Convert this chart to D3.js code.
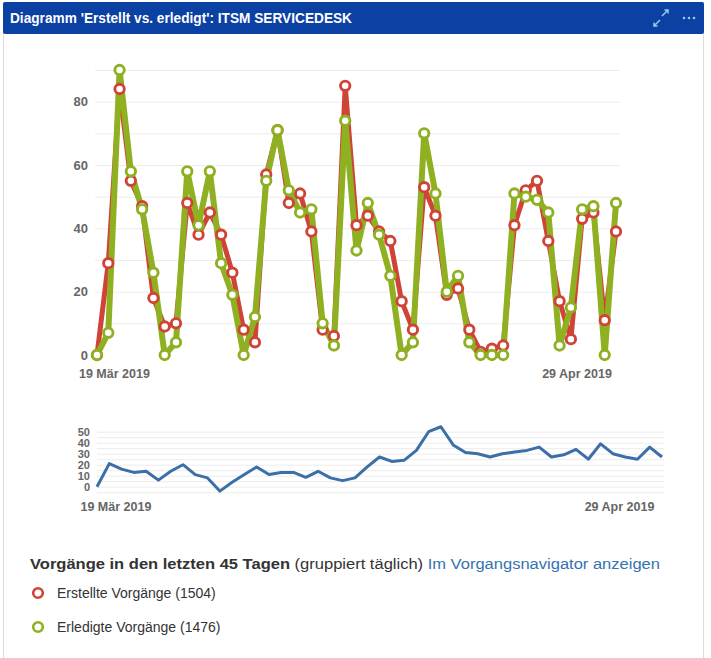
<!DOCTYPE html>
<html>
<head>
<meta charset="utf-8">
<script src="https://cdn.jsdelivr.net/npm/d3@7"></script>
<style>
  html, body { margin: 0; padding: 0; background: #fff; }
  svg { display: block; font-family: "Liberation Sans", Arial, sans-serif; }
</style>
</head>
<body>
<svg id="chart" width="711" height="658"></svg>
<script>
// first day shown, one point per day
const startDay = "2019-03-17";
const tickDays = ["2019-03-19", "2019-04-29"];
const yTicksMain = [0, 20, 40, 60, 80];
const yTicksNav = [0, 10, 20, 30, 40, 50];

// Erstellte Vorgänge per day
const created = [0, 29, 84, 55, 47, 18, 9, 10, 48, 38, 45, 38, 26, 8, 4, 57, 71, 48, 51, 39,
  8, 6, 85, 41, 44, 39, 36, 17, 8, 53, 44, 19, 21, 8, 1, 2, 3, 41, 52, 55, 36, 17, 5, 43, 45, 11, 39];
// Erledigte Vorgänge per day
const resolved = [0, 7, 90, 58, 46, 26, 0, 4, 58, 41, 58, 29, 19, 0, 12, 55, 71, 52, 45, 46,
  10, 3, 74, 33, 48, 38, 25, 0, 4, 70, 51, 20, 25, 4, 0, 0, 0, 51, 50, 49, 45, 3, 15, 46, 47, 0, 48];
// navigator (unresolved trend)
const trend = [0, 21, 16, 13, 14, 6, 14, 20, 11, 8, -4, 4, 11, 18, 11, 13, 13, 8.5, 14, 8,
  5.5, 8, 18, 27, 23, 24, 33, 50, 54.5, 38, 31, 30, 27, 30, 31.5, 33, 36, 27, 29, 34, 25, 39, 30, 27, 25, 36, 27];

const legendItems = [
  { label: "Erstellte Vorgänge (1504)", color: "#d04437" },
  { label: "Erledigte Vorgänge (1476)", color: "#8eb021" }
];

const parseDay = d3.timeParse("%Y-%m-%d");
const fmt = d3.timeFormat("%-d %b %Y");
const monthsDe = { Mar: "Mär", Apr: "Apr", May: "Mai" };
const fmtDe = d => fmt(d).replace(/[A-Z][a-z]{2}/, m => monthsDe[m] || m);

// points sit at noon, ticks at midnight
const days = created.map((_, i) => d3.timeHour.offset(d3.timeDay.offset(parseDay(startDay), i), 12));
const ticks = tickDays.map(parseDay);

const svg = d3.select("#chart");

// ---- panel + header
svg.append("rect").attr("x", 3.5).attr("y", 2.5).attr("width", 700).attr("height", 660)
  .attr("fill", "#fff").attr("stroke", "#dcdcdc");
svg.append("rect").attr("x", 3).attr("y", 2).attr("width", 701).attr("height", 32)
  .attr("rx", 2).attr("fill", "#0b41a3");
svg.append("text").attr("x", 10).attr("y", 23)
  .attr("fill", "#fff").attr("font-weight", "bold").attr("font-size", 14.5)
  .style("font-family", "'Liberation Sans Narrow', 'Liberation Sans', Arial")
  .attr("textLength", 342).attr("lengthAdjust", "spacingAndGlyphs")
  .text("Diagramm 'Erstellt vs. erledigt': ITSM SERVICEDESK");

// expand icon + menu dots
const icons = svg.append("g").attr("stroke", "#9fc3f0").attr("fill", "none").attr("stroke-width", 1.5);
icons.append("path").attr("d", "M662,16 L668,10 M664.5,10 L668,10 L668,13.5");
icons.append("path").attr("d", "M660,20 L654,26 M657.5,26 L654,26 L654,22.5");
svg.append("g").selectAll("circle").data([684, 689, 694]).join("circle")
  .attr("cx", d => d).attr("cy", 18).attr("r", 1.3).attr("fill", "#9fc3f0");

// ---- main chart
const x = d3.scaleTime().domain([days[0], days[days.length - 1]]).range([97, 616]);
const y = d3.scaleLinear().domain([0, 90]).range([355, 70]);

svg.append("g").selectAll("line").data(d3.range(10, 100, 10)).join("line")
  .attr("x1", 95).attr("x2", 620)
  .attr("y1", d => y(d) + 0.5).attr("y2", d => y(d) + 0.5)
  .attr("stroke", "#ececec");

const yAxis = svg.append("g").attr("transform", "translate(88,0)")
  .call(d3.axisLeft(y).tickValues(yTicksMain).tickSize(0).tickPadding(0));
yAxis.select(".domain").remove();
yAxis.selectAll("text").attr("fill", "#666").attr("font-size", 13).attr("font-weight", "bold");

const xAxis = svg.append("g").attr("transform", "translate(0,369)")
  .call(d3.axisBottom(x).tickValues(ticks).tickFormat(fmtDe).tickSize(0).tickPadding(0));
xAxis.select(".domain").remove();
xAxis.selectAll("text").attr("fill", "#666").attr("font-size", 12.5).attr("font-weight", "bold");

const line = d3.line().x((d, i) => x(days[i])).y(d => y(d)).curve(d3.curveLinear);

svg.append("path").datum(created).attr("d", line)
  .attr("fill", "none").attr("stroke", "#d04437").attr("stroke-width", 5).attr("stroke-linejoin", "round");
svg.append("path").datum(resolved).attr("d", line)
  .attr("fill", "none").attr("stroke", "#8eb021").attr("stroke-width", 6).attr("stroke-linejoin", "round");

[[created, "#d04437"], [resolved, "#8eb021"]].forEach(([vals, col]) => {
  svg.append("g").selectAll("circle").data(vals).join("circle")
    .attr("cx", (d, i) => x(days[i])).attr("cy", d => y(d)).attr("r", 4.7)
    .attr("fill", "#fff").attr("stroke", col).attr("stroke-width", 2.9);
});

// ---- navigator chart
const x2 = d3.scaleTime().domain([days[0], days[days.length - 1]]).range([97, 662]);
const y2 = d3.scaleLinear().domain([-5, 50]).range([492.2, 431.7]);

svg.append("g").selectAll("line").data(d3.range(-5, 55, 5)).join("line")
  .attr("x1", 97).attr("x2", 664)
  .attr("y1", d => y2(d) + 0.5).attr("y2", d => y2(d) + 0.5)
  .attr("stroke", "#ececec");

// labels are squeezed vertically like the original
const yAxis2 = svg.append("g").attr("transform", "translate(90,0)")
  .call(d3.axisLeft(y2).tickValues(yTicksNav).tickSize(0).tickPadding(0));
yAxis2.select(".domain").remove();
yAxis2.selectAll("text").attr("fill", "#666").attr("font-size", 11).attr("font-weight", "bold");

const xAxis2 = svg.append("g").attr("transform", "translate(0,502)")
  .call(d3.axisBottom(x2).tickValues(ticks).tickFormat(fmtDe).tickSize(0).tickPadding(0));
xAxis2.select(".domain").remove();
xAxis2.selectAll("text").attr("fill", "#666").attr("font-size", 12.5).attr("font-weight", "bold");

svg.append("path").datum(trend)
  .attr("d", d3.line().x((d, i) => x2(days[i])).y(d => y2(d)))
  .attr("fill", "none").attr("stroke", "#3c6ea8").attr("stroke-width", 3).attr("stroke-linejoin", "round");

// ---- legend
const head = svg.append("text").attr("x", 30).attr("y", 569).attr("font-size", 14).attr("fill", "#333")
  .attr("textLength", 630).attr("lengthAdjust", "spacingAndGlyphs");
head.append("tspan").attr("font-weight", "bold").text("Vorgänge in den letzten 45 Tagen");
head.append("tspan").text(" (gruppiert täglich) ");
head.append("tspan").attr("fill", "#3572b0").text("Im Vorgangsnavigator anzeigen");

const items = svg.append("g").selectAll("g").data(legendItems).join("g")
  .attr("transform", (d, i) => `translate(0,${593 + i * 34})`);
items.append("circle").attr("cx", 38).attr("cy", 0).attr("r", 4.8)
  .attr("fill", "#fff").attr("stroke", d => d.color).attr("stroke-width", 2.6);
items.append("text").attr("x", 57).attr("y", 5).attr("font-size", 14).attr("fill", "#333")
  .text(d => d.label);
</script>
</body>
</html>
